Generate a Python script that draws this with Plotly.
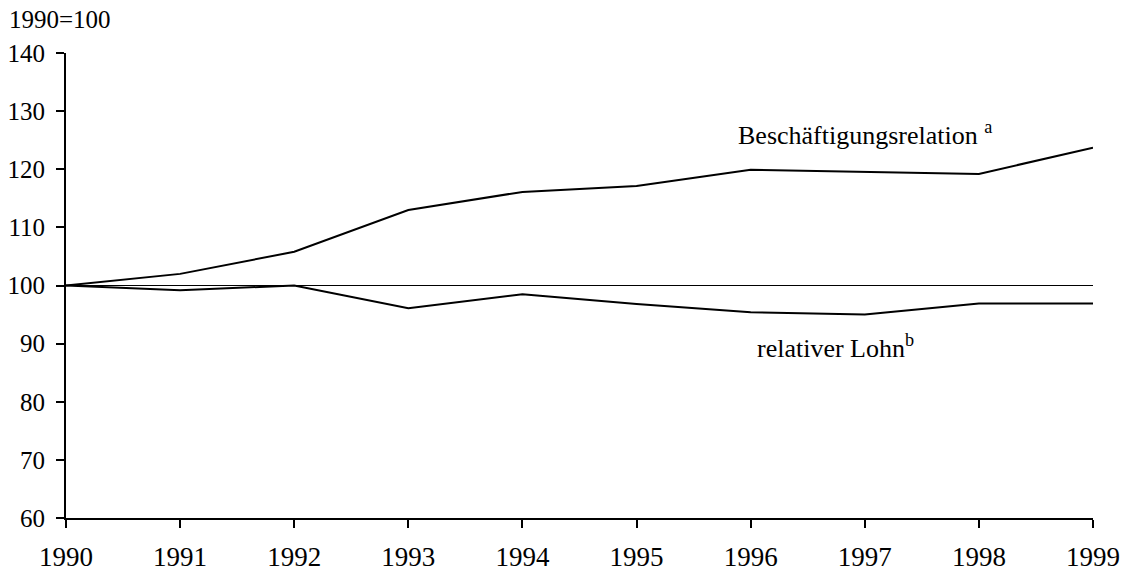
import plotly.graph_objects as go

years = [1990, 1991, 1992, 1993, 1994, 1995, 1996, 1997, 1998, 1999]
beschaeftigung = [100.0, 102.0, 105.8, 113.0, 116.1, 117.1, 119.9, 119.6, 119.2, 123.7]
lohn = [100.0, 99.2, 100.0, 96.1, 98.5, 96.8, 95.4, 95.0, 96.9, 96.9]
y_ticks = [60, 70, 80, 90, 100, 110, 120, 130, 140]
reference = 100

FONT = "Liberation Serif, Times New Roman, serif"

fig = go.Figure()
fig.add_trace(go.Scatter(x=years, y=beschaeftigung, mode="lines",
                         line=dict(color="black", width=2), name="Beschäftigungsrelation"))
fig.add_trace(go.Scatter(x=years, y=lohn, mode="lines",
                         line=dict(color="black", width=2), name="relativer Lohn"))

fig.add_shape(type="line", xref="x", yref="y", x0=years[0], x1=years[-1],
              y0=reference, y1=reference, line=dict(color="black", width=1), layer="below")

fig.update_layout(
    width=1128, height=571,
    margin=dict(l=65.5, r=35.3, t=53, b=53, autoexpand=False),
    paper_bgcolor="white", plot_bgcolor="white",
    showlegend=False,
    font=dict(family=FONT, color="black"),
    xaxis=dict(range=[years[0], years[-1]], tickvals=years, ticktext=[str(y) for y in years],
               showline=True, linecolor="black", linewidth=2, ticks="outside",
               ticklen=8, tickwidth=2, tickcolor="black", showgrid=False, zeroline=False,
               tickfont=dict(size=27, family=FONT), ticklabelstandoff=6, automargin=False),
    yaxis=dict(range=[60, 140], tickvals=y_ticks,
               showline=True, linecolor="black", linewidth=2, ticks="outside",
               ticklen=8, tickwidth=2, tickcolor="black", showgrid=False, zeroline=False,
               tickfont=dict(size=25, family=FONT), ticklabelstandoff=6, automargin=False),
    annotations=[
        dict(text="1990=100", xref="paper", yref="paper", x=-0.057, y=1.071,
             xanchor="left", yanchor="middle", showarrow=False, font=dict(size=25, family=FONT)),
        dict(text="Beschäftigungsrelation <sup>a</sup>", xref="paper", yref="paper",
             x=0.6527, y=0.826, xanchor="left", yanchor="middle", showarrow=False,
             font=dict(size=26, family=FONT)),
        dict(text="relativer Lohn<sup>b</sup>", xref="paper", yref="paper",
             x=0.6709, y=0.369, xanchor="left", yanchor="middle", showarrow=False,
             font=dict(size=26, family=FONT)),
    ],
)

fig.write_html("out.html", config={"displayModeBar": False},
               post_script="document.body.style.margin='0px';")
